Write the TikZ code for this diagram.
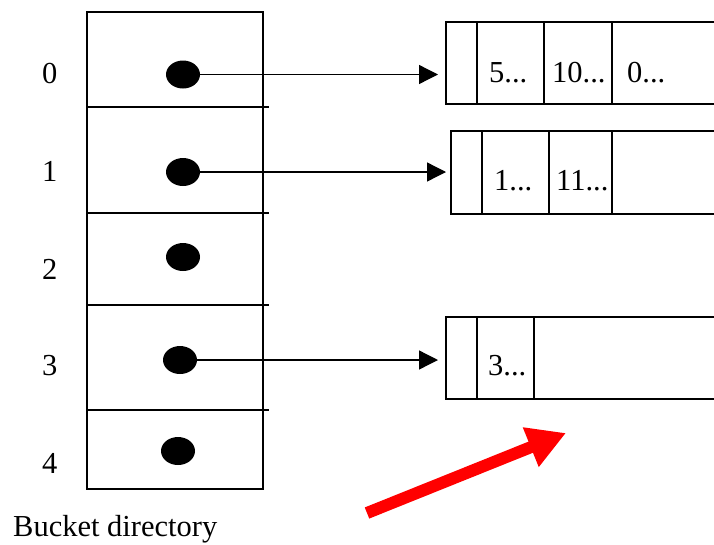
\documentclass[tikz,border=0pt]{standalone}
\usepackage{fontspec}
\setmainfont{Liberation Serif}
\usetikzlibrary{arrows.meta,shapes.geometric}
\begin{document}
\begin{tikzpicture}[x=1pt,y=-1pt,
  frame/.style={line width=1.5pt,line cap=rect},
  dot/.style={ellipse,fill=black,minimum width=34pt,minimum height=28pt,inner sep=0pt},
  link/.style={line width=1.3pt,-{Triangle[length=19pt,width=19pt]},shorten >=8pt},
  lbl/.style={anchor=base west,inner sep=0pt,font=\fontsize{30.5}{32}\selectfont},
  hint/.style={draw=red,line width=12pt,-{Triangle[length=38pt,width=40pt]}}]
\useasboundingbox (0,0) rectangle (714,544);

% bucket directory
\draw[frame] (87,12) rectangle (263,489);
\foreach \y in {107,213,305,410} \draw[frame] (87,\y) -- (268,\y);
\node[dot] (d0) at (183,74.5) {};
\node[dot] (d1) at (183,172) {};
\node[dot] (d2) at (183,257) {};
\node[dot] (d3) at (180,360) {};
\node[dot] (d4) at (178,451) {};

% slot numbers
\node[lbl] (n0) at (42,83) {0};
\node[lbl] (n1) at (42,181) {1};
\node[lbl] (n2) at (42,279) {2};
\node[lbl] (n3) at (42,375) {3};
\node[lbl] (n4) at (42,473) {4};
\node[lbl] (cap) at (13,536) {Bucket directory};

% bucket 0
\draw[frame] (714,22) -- (446,22) -- (446,104) -- (714,104);
\foreach \x in {477,544,612} \draw[frame] (\x,22) -- (\x,104);
\coordinate (b0) at (446,74.5);
\node[lbl] (t00) at (489,82) {5...};
\node[lbl] (t01) at (552,82) {10...};
\node[lbl] (t02) at (627,82) {0...};

% bucket 1
\draw[frame] (714,131) -- (451,131) -- (451,214) -- (714,214);
\foreach \x in {482,549,612} \draw[frame] (\x,131) -- (\x,214);
\coordinate (b1) at (454,172);
\node[lbl] (t10) at (494,190) {1...};
\node[lbl] (t11) at (556,190) {11...};

% bucket 3
\draw[frame] (714,317) -- (446,317) -- (446,399) -- (714,399);
\foreach \x in {477,534} \draw[frame] (\x,317) -- (\x,399);
\coordinate (b3) at (446,360);
\node[lbl] (t30) at (488,375) {3...};

% directory pointers
\draw[link] (d0.center) -- (b0);
\draw[link] (d1.center) -- (b1);
\draw[link] (d3.center) -- (b3);

% red marker arrow
\coordinate (r0) at (367,513);
\coordinate (r1) at (566,433);
\draw[hint] (r0) -- (r1);
\end{tikzpicture}
\end{document}
